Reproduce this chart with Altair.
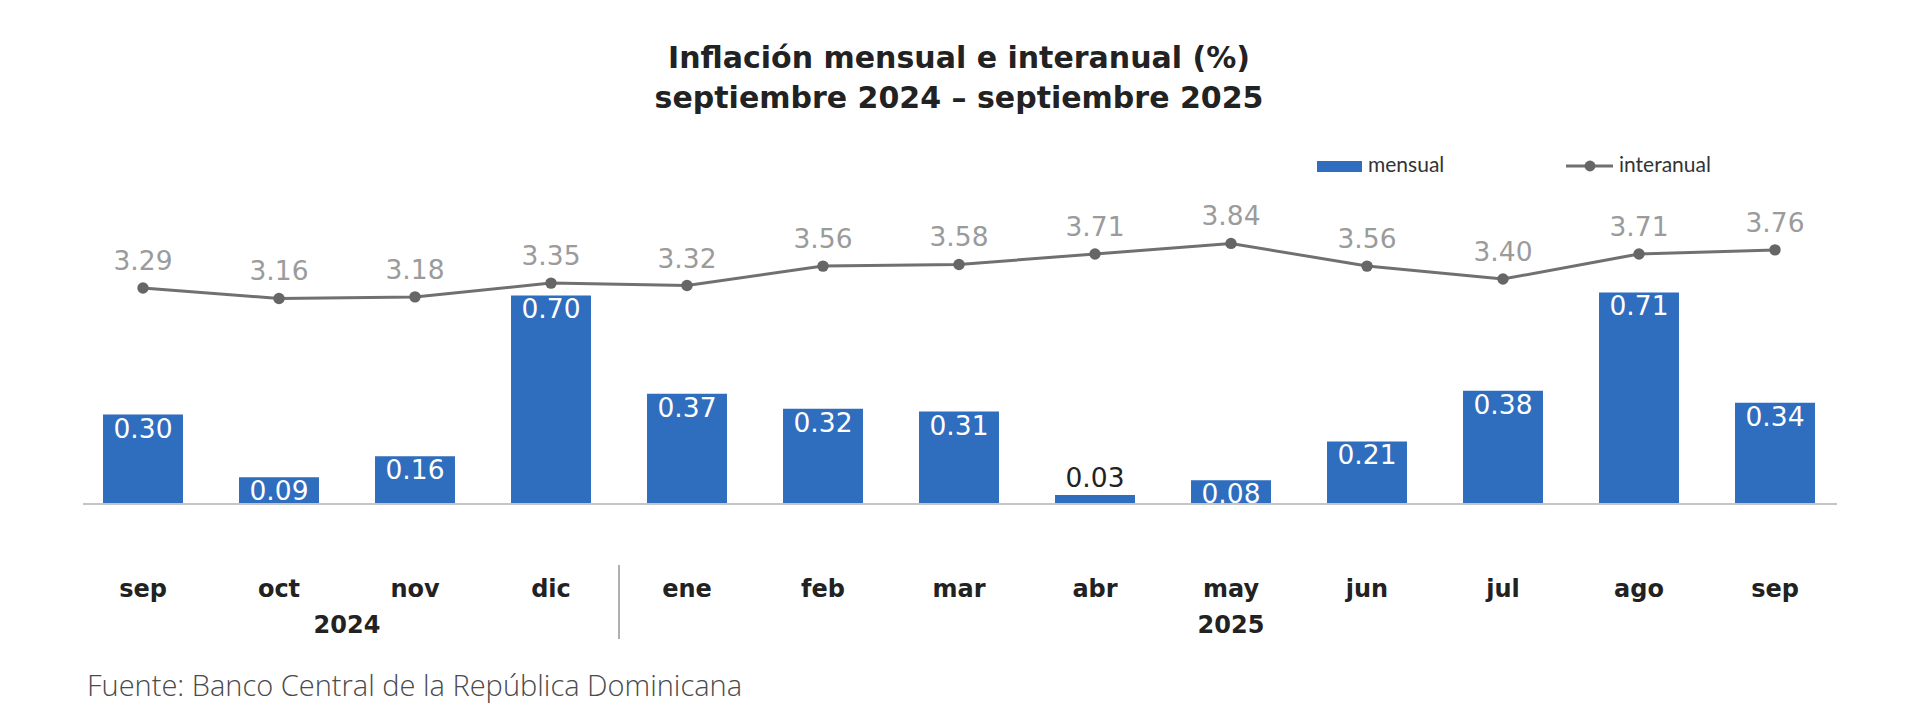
import altair as alt
import pandas as pd

# ---- data ----
meses = ["sep", "oct", "nov", "dic", "ene", "feb", "mar", "abr", "may", "jun", "jul", "ago", "sep"]
anios = ["2024"] * 4 + ["2025"] * 9
mensual = [0.30, 0.09, 0.16, 0.70, 0.37, 0.32, 0.31, 0.03, 0.08, 0.21, 0.38, 0.71, 0.34]
interanual = [3.29, 3.16, 3.18, 3.35, 3.32, 3.56, 3.58, 3.71, 3.84, 3.56, 3.40, 3.71, 3.76]
series = ["mensual", "interanual"]
titulo = ["Inflación mensual e interanual (%)", "septiembre 2024 – septiembre 2025"]
fuente = ["Fuente: Banco Central de la República Dominicana"]

periodos = [f"{m} {a}" for m, a in zip(meses, anios)]
df = pd.DataFrame({"periodo": periodos, "mensual": mensual, "interanual": interanual})

AZUL = "#2F6DBE"
GRIS_LINEA = "#707070"
FONT = "DejaVu Sans"

x_enc = alt.X(
    "periodo:N",
    sort=periodos,
    scale=alt.Scale(paddingInner=0.412, paddingOuter=0.206),
    axis=alt.Axis(
        title=None, domain=False, ticks=False, grid=False,
        labelExpr="split(datum.value, ' ')[0]",
        labelFont=FONT, labelFontWeight="bold", labelFontSize=24,
        labelColor="#222222", labelPadding=85, labelBaseline="middle", labelAngle=0,
    ),
)

y_bar = alt.Y("mensual:Q", scale=alt.Scale(domain=[0, 1.0201], nice=False), axis=None)
y_line = alt.Y("interanual:Q", scale=alt.Scale(domain=[0.623, 4.376], nice=False, zero=False), axis=None)

bars = alt.Chart(df).mark_bar(color=AZUL).encode(x=x_enc, y=y_bar)
lbl_in = alt.Chart(df).transform_filter("datum.mensual >= 0.05").mark_text(
    baseline="middle", dy=15, color="white", font=FONT, fontSize=26.5
).encode(x=x_enc, y=y_bar, text=alt.Text("mensual:Q", format=".2f"))
lbl_out = alt.Chart(df).transform_filter("datum.mensual < 0.05").mark_text(
    baseline="middle", dy=-16, color="#222222", font=FONT, fontSize=26.5
).encode(x=x_enc, y=y_bar, text=alt.Text("mensual:Q", format=".2f"))
bar_group = alt.layer(bars, lbl_in, lbl_out)

line = alt.Chart(df).mark_line(color=GRIS_LINEA, strokeWidth=3).encode(x=x_enc, y=y_line)
pts = alt.Chart(df).mark_point(filled=True, size=130, color="#666666", opacity=1).encode(x=x_enc, y=y_line)
line_lbl = alt.Chart(df).mark_text(
    baseline="middle", dy=-26, color="#9b9b9b", font=FONT, fontSize=26.5
).encode(x=x_enc, y=y_line, text=alt.Text("interanual:Q", format=".2f"))
line_group = alt.layer(line, pts, line_lbl)

# year labels and separator
y24 = alt.Chart(pd.DataFrame({"periodo": [periodos[1]], "anio": [anios[0]]})).mark_text(
    dx=68, baseline="middle", font=FONT, fontWeight="bold", fontSize=24, color="#222222"
).encode(x=x_enc, y=alt.value(426), text="anio:N")
y25 = alt.Chart(pd.DataFrame({"periodo": [periodos[8]], "anio": [anios[8]]})).mark_text(
    baseline="middle", font=FONT, fontWeight="bold", fontSize=24, color="#222222"
).encode(x=x_enc, y=alt.value(426), text="anio:N")
sep = alt.Chart(pd.DataFrame({"periodo": [periodos[3]]})).mark_rule(
    xOffset=68, color="#b0b0b0", strokeWidth=2
).encode(x=x_enc, y=alt.value(365), y2=alt.value(439))

one = pd.DataFrame({"k": [0]})
base_rule = alt.Chart(one).mark_rule(color="#c4c4c4", strokeWidth=2).encode(
    x=alt.value(8), x2=alt.value(1762), y=alt.value(304)
)

# legend
leg_rect = alt.Chart(one).mark_rect(color=AZUL).encode(
    x=alt.value(1242), x2=alt.value(1287), y=alt.value(-39), y2=alt.value(-28)
)
leg_t1 = alt.Chart(pd.DataFrame({"s": [series[0]]})).mark_text(
    align="left", baseline="middle", font="Lato", fontSize=21, color="#333333"
).encode(x=alt.value(1293), y=alt.value(-34), text="s:N")
leg_line = alt.Chart(one).mark_rule(color=GRIS_LINEA, strokeWidth=3).encode(
    x=alt.value(1491), x2=alt.value(1538), y=alt.value(-34)
)
leg_pt = alt.Chart(one).mark_point(filled=True, size=120, color="#666666", opacity=1).encode(
    x=alt.value(1515), y=alt.value(-34)
)
leg_t2 = alt.Chart(pd.DataFrame({"s": [series[1]]})).mark_text(
    align="left", baseline="middle", font="Lato", fontSize=21, color="#333333"
).encode(x=alt.value(1544), y=alt.value(-34), text="s:N")

# title
t1 = alt.Chart(pd.DataFrame({"t": [titulo[0]]})).mark_text(
    align="center", baseline="alphabetic", font=FONT, fontWeight="bold", fontSize=30, color="#222222"
).encode(x=alt.value(884), y=alt.value(-132), text="t:N")
t2 = alt.Chart(pd.DataFrame({"t": [titulo[1]]})).mark_text(
    align="center", baseline="alphabetic", font=FONT, fontWeight="bold", fontSize=30, color="#222222"
).encode(x=alt.value(884), y=alt.value(-92), text="t:N")

src = alt.Chart(pd.DataFrame({"t": fuente})).mark_text(
    align="left", baseline="middle", font="Open Sans", fontWeight=300, fontSize=29, color="#4a4a4a"
).encode(x=alt.value(12), y=alt.value(487), text="t:N")

chart = alt.layer(
    bar_group, line_group, base_rule, sep, y24, y25,
    leg_rect, leg_t1, leg_line, leg_pt, leg_t2, t1, t2, src
).resolve_scale(y="independent").properties(
    width=1768, height=304,
    autosize=alt.AutoSizeParams(type="none"),
    padding={"left": 67, "top": 192, "right": 52, "bottom": 200},
    background="white",
).configure_view(stroke=None)

chart.save("out.html", embed_options={"renderer": "svg", "actions": False})
